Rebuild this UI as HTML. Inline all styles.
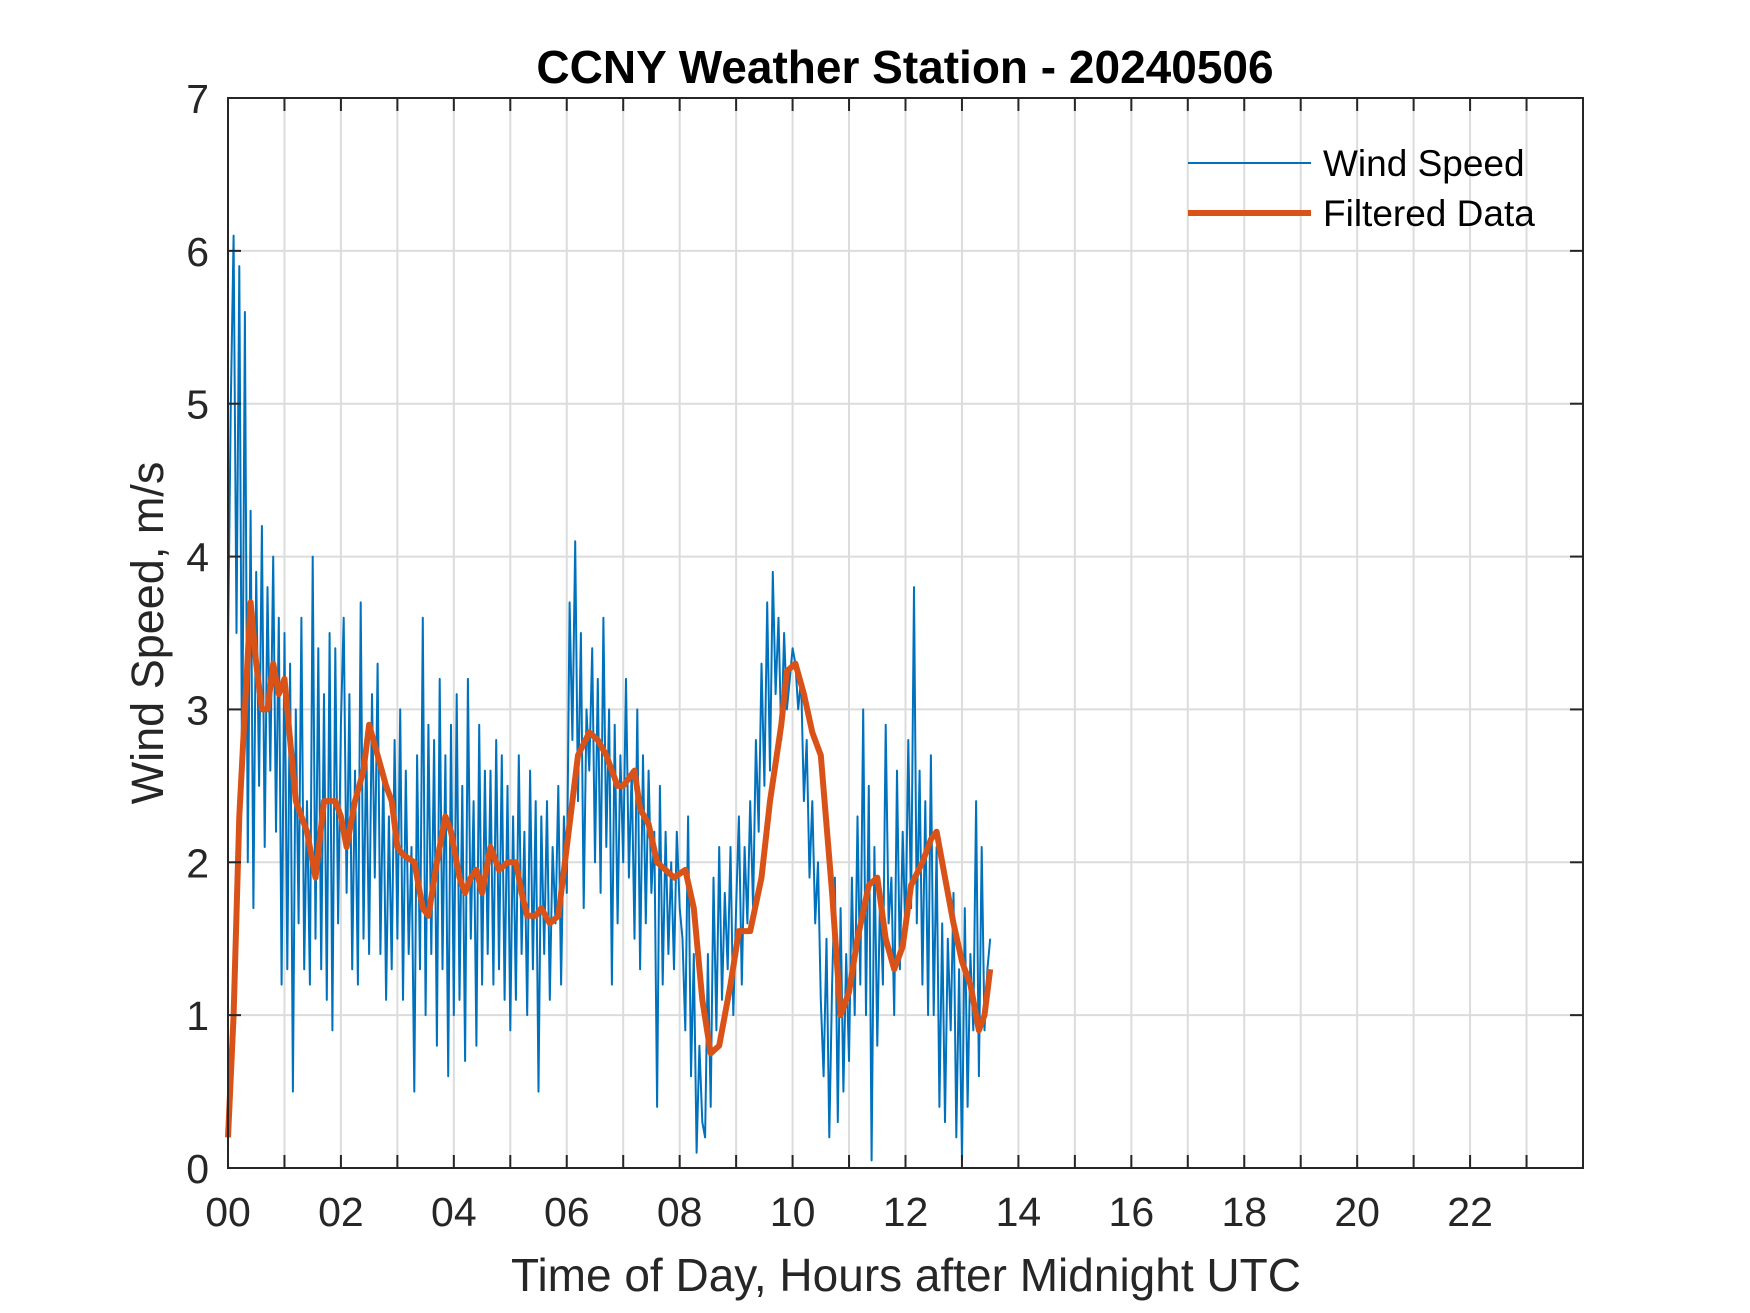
<!DOCTYPE html>
<html><head><meta charset="utf-8"><style>
html,body{margin:0;padding:0;background:#fff;}
svg{display:block;font-family:"Liberation Sans",Arial,sans-serif;}
</style></head><body>
<svg id="chart" width="1750" height="1313" viewBox="0 0 1750 1313">
<rect width="1750" height="1313" fill="#fff"/>
<g id="grid"></g>
<g id="plot"></g>
<rect x="228" y="98" width="1355" height="1070" fill="none" stroke="#262626" stroke-width="2"/>
<g id="ticks"></g>
<text x="905" y="83" text-anchor="middle" font-size="46" font-weight="bold" fill="#000">CCNY Weather Station - 20240506</text>
<text x="906" y="1291" text-anchor="middle" font-size="46" fill="#262626">Time of Day, Hours after Midnight UTC</text>
<text transform="translate(163,633) rotate(-90)" text-anchor="middle" font-size="45" fill="#262626">Wind Speed, m/s</text>
<g>
<line x1="1188" y1="163" x2="1311" y2="163" stroke="#0072BD" stroke-width="2"/>
<text x="1323" y="176" font-size="37" fill="#000">Wind Speed</text>
<line x1="1188" y1="213" x2="1311" y2="213" stroke="#D95319" stroke-width="6"/>
<text x="1323" y="226" font-size="37" fill="#000">Filtered Data</text>
</g>
</svg>
<script>
const xTickLabels = ["00","02","04","06","08","10","12","14","16","18","20","22"];
const yTickLabels = ["0","1","2","3","4","5","6","7"];
const windStep = 0.05;
const windSpeed = [
3.4,5.0,6.1,3.5,5.9,2.5,5.6,2.0,4.3,1.7,3.9,2.5,4.2,2.1,3.8,2.6,4.0,2.2,3.6,1.2,3.5,
1.3,3.3,0.5,3.0,1.6,3.6,1.3,2.4,1.2,4.0,1.5,3.4,1.3,3.1,1.1,3.5,0.9,3.4,1.6,2.9,
3.6,1.8,3.1,1.3,2.6,1.2,3.7,1.5,2.8,1.4,3.1,1.9,3.3,1.4,2.6,1.1,2.3,1.3,2.8,1.5,
3.0,1.1,2.6,1.4,2.1,0.5,2.7,1.3,3.6,1.0,2.9,1.4,2.8,0.8,3.2,1.3,2.7,0.6,2.9,1.0,
3.1,1.1,2.5,0.7,3.2,1.5,2.4,0.8,2.9,1.2,2.6,1.4,2.6,1.2,2.8,1.3,2.7,1.1,2.5,0.9,
2.3,1.1,2.7,1.4,2.2,1.0,2.6,1.3,2.4,0.5,2.3,1.4,2.4,1.1,2.1,1.6,2.5,1.2,2.3,1.8,
3.7,2.8,4.1,2.4,3.5,1.7,3.0,2.6,3.4,2.0,3.2,1.8,3.6,2.1,3.0,1.2,2.9,1.6,2.7,2.0,
3.2,1.9,2.6,1.5,3.0,1.3,2.7,1.6,2.6,1.8,2.2,0.4,2.5,1.2,2.2,1.4,2.0,1.3,2.2,1.7,
1.5,0.9,2.3,0.6,1.4,0.1,0.8,0.3,0.2,1.4,0.4,1.9,0.9,2.1,1.1,1.8,1.3,2.1,1.0,1.7,
2.3,1.2,2.1,1.6,2.4,1.7,2.8,2.2,3.3,2.5,3.7,2.6,3.9,3.1,3.6,2.8,3.5,3.0,3.2,3.4,
3.3,3.0,3.2,2.4,2.8,1.9,2.4,1.6,2.0,1.1,0.6,1.5,0.2,1.2,1.9,0.3,1.7,0.5,1.4,0.7,
1.9,1.0,2.3,1.2,3.0,1.0,2.5,0.05,2.1,0.8,1.8,1.2,2.9,1.6,1.9,1.0,2.6,1.3,2.2,1.5,
2.8,1.7,3.8,1.6,2.6,1.2,2.4,1.0,2.7,1.0,2.1,0.4,1.6,0.3,1.5,0.9,1.8,0.2,1.3,0.05,
1.7,0.4,1.4,0.9,2.4,0.6,2.1,0.9,1.3,1.5
];
const filtHours = [0,0.1,0.2,0.3,0.4,0.5,0.6,0.7,0.8,0.9,1.0,1.1,1.2,1.4,1.55,1.7,1.9,2.0,2.1,2.25,2.4,2.5,2.65,2.8,2.9,3.0,3.1,3.3,3.45,3.55,3.7,3.85,3.95,4.1,4.2,4.3,4.4,4.5,4.65,4.8,4.95,5.1,5.2,5.3,5.45,5.55,5.7,5.85,6.0,6.1,6.2,6.4,6.55,6.7,6.8,6.9,7.0,7.2,7.3,7.45,7.6,7.75,7.9,8.1,8.25,8.4,8.55,8.7,8.9,9.05,9.25,9.45,9.6,9.8,9.9,10.05,10.2,10.35,10.5,10.7,10.85,11.0,11.15,11.35,11.5,11.65,11.8,11.95,12.1,12.3,12.45,12.55,12.7,12.85,13.0,13.15,13.3,13.4,13.5];
const filtValues = [0.2,1.0,2.3,3.0,3.7,3.3,3.0,3.0,3.3,3.1,3.2,2.8,2.4,2.2,1.9,2.4,2.4,2.3,2.1,2.4,2.6,2.9,2.7,2.5,2.4,2.1,2.05,2.0,1.7,1.65,2.0,2.3,2.2,1.9,1.8,1.9,1.95,1.8,2.1,1.95,2.0,2.0,1.8,1.65,1.65,1.7,1.6,1.65,2.1,2.4,2.7,2.85,2.8,2.7,2.6,2.5,2.5,2.6,2.35,2.25,2.0,1.95,1.9,1.95,1.7,1.1,0.75,0.8,1.2,1.55,1.55,1.9,2.4,2.9,3.25,3.3,3.1,2.85,2.7,1.8,1.0,1.15,1.5,1.85,1.9,1.5,1.3,1.45,1.85,2.0,2.15,2.2,1.9,1.6,1.35,1.2,0.9,1.0,1.3];

const L=228,R=1583,T=98,B=1168,XMAX=24,YMAX=7;
const xs=h=>L+(R-L)*h/XMAX;
const ys=v=>B-(B-T)*v/YMAX;
const NS="http://www.w3.org/2000/svg";
function mk(tag,attrs,parent){const e=document.createElementNS(NS,tag);for(const k in attrs)e.setAttribute(k,attrs[k]);parent.appendChild(e);return e;}
const grid=document.getElementById('grid'),ticks=document.getElementById('ticks'),plot=document.getElementById('plot');
for(let h=1;h<XMAX;h++){
  const g=mk('line',{x1:xs(h),x2:xs(h),y1:T,y2:B,stroke:'#dcdcdc','stroke-width':2},grid);
  
  
  const t1=mk('line',{x1:xs(h),x2:xs(h),y1:B,y2:B-13,stroke:'#262626','stroke-width':2},ticks);
  
  
  const t2=mk('line',{x1:xs(h),x2:xs(h),y1:T,y2:T+13,stroke:'#262626','stroke-width':2},ticks);
  
  
}
xTickLabels.forEach((lab,i)=>{
  const t=mk('text',{x:xs(i*2),y:B+58,'text-anchor':'middle','font-size':41,fill:'#262626'},ticks);
  t.textContent=lab;
  
  
});
yTickLabels.forEach((lab,i)=>{
  const v=+lab;
  if(v>0&&v<YMAX){
    const g=mk('line',{x1:L,x2:R,y1:ys(v),y2:ys(v),stroke:'#dcdcdc','stroke-width':2},grid);
    
    
  }
  const t1=mk('line',{x1:L,x2:L+13,y1:ys(v),y2:ys(v),stroke:'#262626','stroke-width':2},ticks);
  
  
  const t2=mk('line',{x1:R,x2:R-13,y1:ys(v),y2:ys(v),stroke:'#262626','stroke-width':2},ticks);
  
  
  const t=mk('text',{x:L-19,y:ys(v)+15,'text-anchor':'end','font-size':41,fill:'#262626'},ticks);
  t.textContent=lab;
  
  
});
const wp=windSpeed.map((v,i)=>xs(i*windStep).toFixed(1)+','+ys(v).toFixed(1)).join(' ');
const w=mk('polyline',{points:wp,fill:'none',stroke:'#0072BD','stroke-width':2,'stroke-linejoin':'round'},plot);


const fp=filtValues.map((v,i)=>xs(filtHours[i]).toFixed(1)+','+ys(v).toFixed(1)).join(' ');
const f=mk('polyline',{points:fp,fill:'none',stroke:'#D95319','stroke-width':6,'stroke-linejoin':'round'},plot);


</script>
</body></html>
